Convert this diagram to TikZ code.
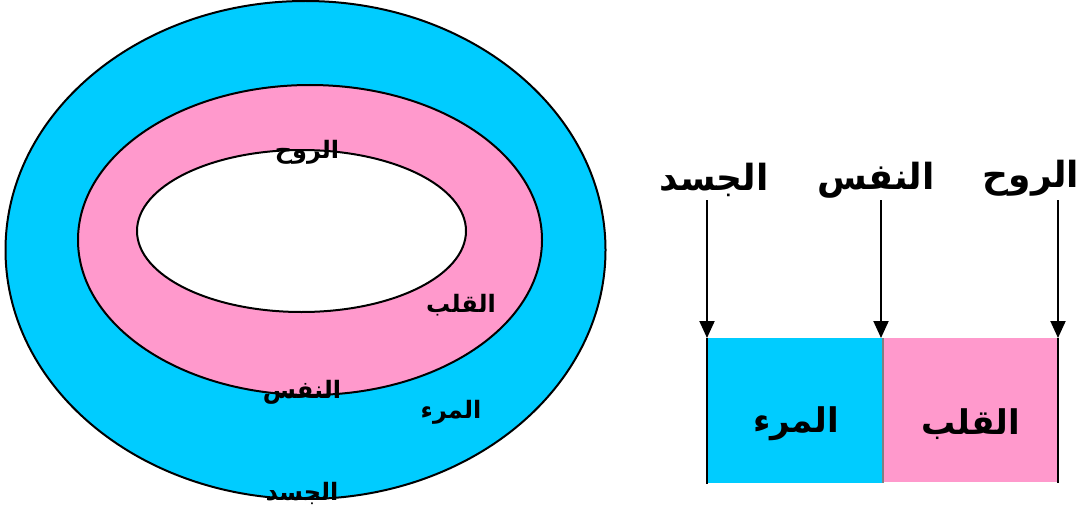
\documentclass[tikz,border=0pt]{standalone}
\usepackage{fontspec}
\usepackage{tikz}
\usetikzlibrary{arrows.meta}
\newfontfamily\arabicfont[Script=Arabic]{DejaVu Sans}
\TeXXeTstate=1
\definecolor{souleblue}{HTML}{00CCFF}
\definecolor{soulpink}{HTML}{FF99CC}
\tikzset{
  smalllbl/.style={font=\arabicfont\bfseries\fontsize{12}{14}\selectfont, inner sep=0pt},
  biglbl/.style={font=\arabicfont\bfseries\fontsize{18}{21}\selectfont, inner sep=0pt},
  boxlbl/.style={font=\arabicfont\bfseries\fontsize{17}{20}\selectfont, inner sep=0pt},
  downarrow/.style={-{Triangle[length=8.5pt,width=7.5pt]}, line width=1pt}
}

\begin{document}
\begin{tikzpicture}[x=0.5pt,y=-0.5pt]
    \useasboundingbox (0,0) rectangle (1081,519);

    % Nested ellipses
    \filldraw[fill=souleblue,line width=1pt] (305.5,250) ellipse (300 and 249);
    \filldraw[fill=soulpink,line width=1pt] (310,240) ellipse (232 and 155);
    \filldraw[fill=white,line width=1pt] (301.5,231) ellipse (164.5 and 81);

    % Labels in the ellipses
    \node[smalllbl] (ruhL) at (307,152) {\beginR الروح\endR};
    \node[smalllbl] (qalbL) at (461,305) {\beginR القلب\endR};
    \node[smalllbl] (nafsL) at (302,392) {\beginR النفس\endR};
    \node[smalllbl] (marL) at (451,412) {\beginR المرء\endR};
    \node[smalllbl] (jasadL) at (302,493) {\beginR الجسد\endR};

    % Boxes
    \fill[souleblue] (707,338) rectangle (883,483);
    \fill[soulpink] (883,338) rectangle (1059,482);
    \draw[line width=1pt] (707,338) -- (707,484);
    \draw[line width=0.6pt,gray] (883,338) -- (883,483);
    \draw[line width=1pt] (1058,338) -- (1058,483);
    \node[boxlbl] (mar) at (796,424) {\beginR المرء\endR};
    \node[boxlbl] (qalb) at (971,424) {\beginR القلب\endR};

    % Top labels and arrows
    \node[biglbl] (jasad) at (714,180) {\beginR الجسد\endR};
    \node[biglbl] (nafs) at (876,180) {\beginR النفس\endR};
    \node[biglbl] (ruh) at (1031,178) {\beginR الروح\endR};
    \foreach \x/\n in {707/a,881/b,1058/c} {
        \coordinate (top\n) at (\x,200);
        \coordinate (end\n) at (\x,338);
        \draw[downarrow] (top\n) -- (end\n);
    }
\end{tikzpicture}
\end{document}
